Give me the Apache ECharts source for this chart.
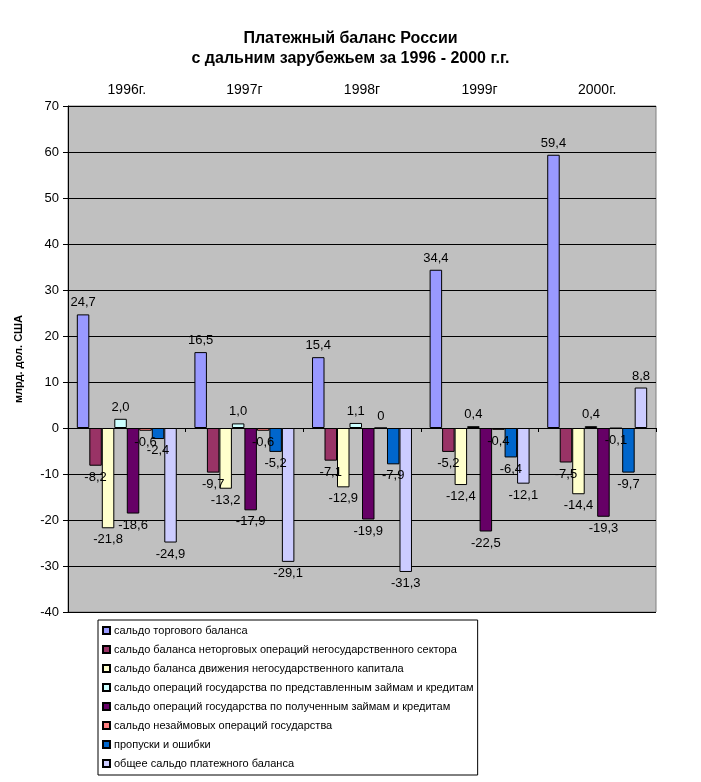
<!DOCTYPE html>
<html>
<head>
    <meta charset="utf-8">
    <title>Платежный баланс России</title>
    <script src="https://cdn.jsdelivr.net/npm/echarts@6/dist/echarts.min.js"></script>
    <style>
        html, body { margin: 0; padding: 0; background: #fff; }
    </style>
</head>
<body>
    <div id="main" style="width: 701px;height:782px;"></div>
    <script type="text/javascript">
        // годы (категории)
        var years = ['1996г.', '1997г', '1998г', '1999г', '2000г.'];

        // названия рядов
        var seriesNames = [
            'сальдо торгового баланса',
            'сальдо баланса неторговых операций негосударственного сектора',
            'сальдо баланса движения негосударственного капитала',
            'сальдо операций государства по представленным займам и кредитам',
            'сальдо операций государства по полученным займам и кредитам',
            'сальдо незаймовых операций государства',
            'пропуски и ошибки',
            'общее сальдо платежного баланса'
        ];

        // значения, млрд. дол. США
        var trade = [24.7, 16.5, 15.4, 34.4, 59.4];
        var nonTrade = [-8.2, -9.7, -7.1, -5.2, -7.5];
        var privateCapital = [-21.8, -13.2, -12.9, -12.4, -14.4];
        var loansGiven = [2.0, 1.0, 1.1, 0.4, 0.4];
        var loansReceived = [-18.6, -17.9, -19.9, -22.5, -19.3];
        var nonLoanOps = [-0.6, -0.6, 0, -0.4, -0.1];
        var errors = [-2.4, -5.2, -7.9, -6.4, -9.7];
        var total = [-24.9, -29.1, -31.3, -12.1, 8.8];

        var yTicks = { min: -40, max: 70, interval: 10 };

        var seriesValues = [trade, nonTrade, privateCapital, loansGiven,
            loansReceived, nonLoanOps, errors, total];
        var colors = ['#9999ff', '#993366', '#ffffcc', '#ccffff',
            '#660066', '#ff8080', '#0066cc', '#ccccff'];

        var font = 'Liberation Sans, Arial, sans-serif';

        function fmt(v) {
            if (v === 0) return '0';
            return v.toFixed(1).replace('.', ',');
        }

        var series = seriesValues.map(function (vals, i) {
            return {
                name: seriesNames[i],
                type: 'bar',
                xAxisIndex: 0,
                barGap: 0,
                barCategoryGap: '15%',
                itemStyle: { color: colors[i], borderColor: '#000', borderWidth: 1 },
                data: vals.map(function (v) {
                    return {
                        value: v,
                        label: { position: v < 0 ? 'bottom' : 'top' }
                    };
                }),
                label: {
                    show: true,
                    distance: 5,
                    color: '#000',
                    fontFamily: font,
                    fontSize: 13,
                    formatter: function (p) { return fmt(p.value); }
                }
            };
        });

        var myChart = echarts.init(document.getElementById('main'));

        var option = {
            backgroundColor: '#fff',
            animation: false,
            title: {
                text: 'Платежный баланс России\nс дальним зарубежьем за 1996 - 2000 г.г.',
                left: 'center',
                top: 24,
                textStyle: {
                    fontFamily: font,
                    fontSize: 16,
                    fontWeight: 'bold',
                    color: '#000',
                    lineHeight: 20
                }
            },
            grid: {
                left: 68,
                right: 45,
                top: 106,
                bottom: 170,
                show: true,
                backgroundColor: '#c0c0c0',
                borderColor: '#808080',
                borderWidth: 1
            },
            legend: {
                orient: 'vertical',
                left: 98,
                top: 620,
                padding: [4, 4, 5, 4],
                itemWidth: 7,
                itemHeight: 7,
                itemGap: 6,
                icon: 'rect',
                backgroundColor: '#fff',
                borderColor: '#000',
                borderWidth: 1,
                textStyle: {
                    fontFamily: font,
                    fontSize: 11,
                    lineHeight: 13,
                    color: '#000',
                    padding: [0, 0, 0, -1]
                },
                data: seriesNames
            },
            xAxis: [
                {
                    type: 'category',
                    data: years,
                    position: 'top',
                    axisLine: { show: false, onZero: false },
                    axisTick: { show: false },
                    axisLabel: {
                        color: '#000',
                        fontFamily: font,
                        fontSize: 14,
                        margin: 9
                    }
                },
                {
                    type: 'category',
                    data: years,
                    position: 'bottom',
                    axisLine: { show: true, onZero: true, lineStyle: { color: '#000', width: 1 } },
                    axisTick: { show: true, length: 4, lineStyle: { color: '#000' } },
                    axisLabel: { show: false }
                }
            ],
            yAxis: {
                type: 'value',
                min: yTicks.min,
                max: yTicks.max,
                interval: yTicks.interval,
                name: 'млрд. дол. США',
                nameLocation: 'middle',
                nameGap: 44,
                nameRotate: 90,
                nameTextStyle: {
                    fontFamily: font,
                    fontSize: 11,
                    fontWeight: 'bold',
                    color: '#000'
                },
                axisLine: { show: true, lineStyle: { color: '#000', width: 1 } },
                axisTick: { show: true, length: 5, lineStyle: { color: '#000' } },
                axisLabel: {
                    color: '#000',
                    fontFamily: font,
                    fontSize: 13,
                    margin: 9
                },
                splitLine: { show: true, lineStyle: { color: '#000', width: 1 } }
            },
            series: series
        };

        myChart.setOption(option);
    </script>
</body>
</html>
